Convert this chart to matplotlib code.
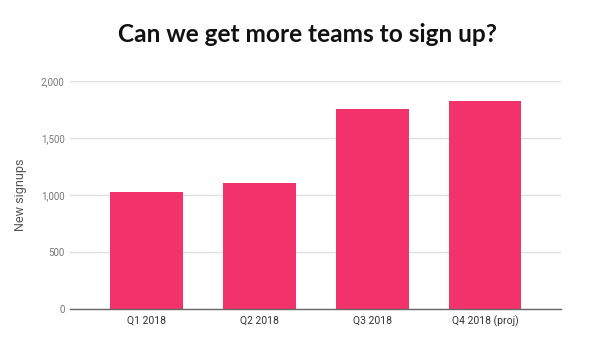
import matplotlib
matplotlib.use("Agg")
import matplotlib.pyplot as plt

quarters = ["Q1 2018", "Q2 2018", "Q3 2018", "Q4 2018 (proj)"]
signups = [1025, 1105, 1755, 1825]
y_ticks = [0, 500, 1000, 1500, 2000]
y_tick_labels = ["0", "500", "1,000", "1,500", "2,000"]

fig = plt.figure(figsize=(6, 3.4), dpi=100)
ax = fig.add_axes([0.1167, 0.0912, 0.8183, 0.6706])

x = range(len(quarters))
ax.bar(x, signups, width=0.645, color="#F2336B", zorder=3)

ax.set_xlim(-0.676, 3.673)
ax.set_ylim(0, 2000)
ax.set_yticks(y_ticks)
ax.set_yticklabels(y_tick_labels, fontfamily="Roboto", fontsize=7, color="#777777")
ax.set_xticks(list(x))
ax.set_xticklabels(quarters, fontfamily="Roboto", fontsize=7.5, color="#333333")
ax.tick_params(axis="both", length=0)
ax.tick_params(axis="y", pad=4)
ax.tick_params(axis="x", pad=5)

ax.grid(axis="y", color="#e0e0e0", linewidth=1, zorder=0)
for side in ["top", "right", "left"]:
    ax.spines[side].set_visible(False)
ax.spines["bottom"].set_color("#666666")
ax.spines["bottom"].set_linewidth(1)
ax.spines["bottom"].set_zorder(4)

ax.set_ylabel("New signups", fontfamily="Roboto", fontsize=9, color="#555555", labelpad=10)

fig.text(0.512, 0.90, "Can we get more teams to sign up?", ha="center", va="center",
         fontfamily="Lato", fontweight="bold", fontsize=17.6, color="#111111")

fig.savefig("out.png", dpi=100)
